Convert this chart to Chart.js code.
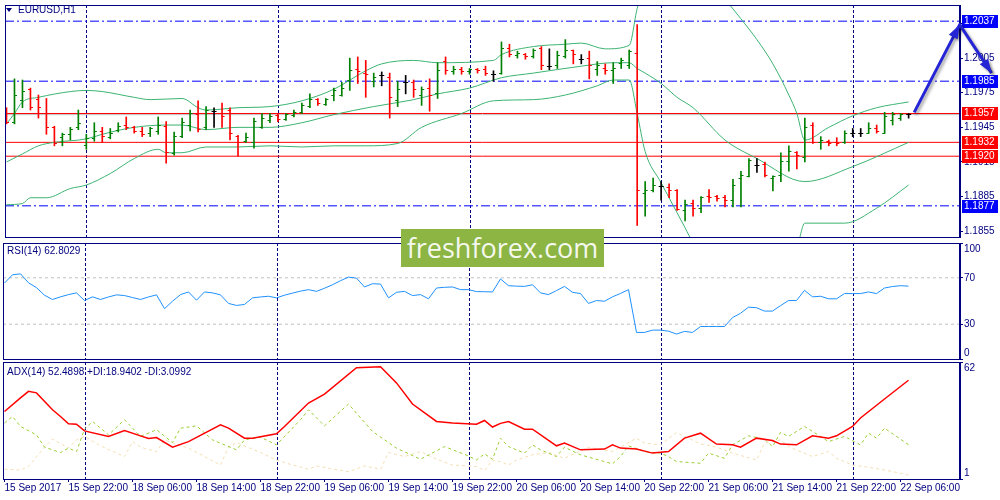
<!DOCTYPE html>
<html>
<head>
<meta charset="utf-8">
<script src="https://cdn.jsdelivr.net/npm/chart.js@4.4.1/dist/chart.umd.min.js"></script>
<style>
  body { margin: 0; background: #fff; width: 1000px; height: 500px; position: relative; overflow: hidden; font-family: "Liberation Sans", Arial, sans-serif; }
  canvas { position: absolute; left: 0; }
  #main { top: 0; }
  #rsi { top: 241px; }
  #adx { top: 360px; }
  .ttl { position: absolute; font-size: 10px; line-height: 12px; color: #000080; white-space: nowrap; z-index: 2; }
  #tri { position: absolute; left: 6px; top: 8px; width: 0; height: 0; border-left: 3px solid transparent; border-right: 3px solid transparent; border-top: 4px solid #000080; z-index: 2; }
  #wm { position: absolute; left: 401px; top: 229px; width: 203px; height: 38px; background: #8db544; color: rgba(255,255,255,0.93);
        font-family: "Open Sans", sans-serif; font-size: 27px; line-height: 37px; text-align: center; z-index: 3; }
</style>
</head>
<body>
<canvas id="main" width="1000" height="242"></canvas>
<canvas id="rsi" width="1000" height="120"></canvas>
<canvas id="adx" width="1000" height="140"></canvas>
<div id="tri"></div>
<div class="ttl" style="left:18px;top:4px">EURUSD,H1</div>
<div class="ttl" style="left:7px;top:245px">RSI(14) 62.8029</div>
<div class="ttl" style="left:7px;top:366px">ADX(14) 52.4898 +DI:18.9402 -DI:3.0992</div>
<div id="wm">freshforex.com</div>
<script>
// EURUSD H1, one bar per hour, 15 Sep 14:00 .. 22 Sep 07:00
const opens = [1.1961,1.1949,1.1968,1.1978,1.1969,1.1957,1.1945,1.1936,1.1939,1.1945,1.1929,1.1935,1.1941,1.1936,1.1942,1.1947,1.1945,1.1941,1.1940,1.1941,
  1.1946,1.1922,1.1937,1.1947,1.1956,1.1945,1.1959,1.1957,1.1960,1.1937,1.1933,1.1932,1.1945,1.1951,1.1955,1.1952,1.1955,1.1958,1.1963,1.1969,
  1.1965,1.1973,1.1973,1.1986,1.1995,1.1992,1.1985,1.1990,1.1988,1.1968,1.1984,1.1984,1.1973,1.1979,1.1974,1.2002,1.1993,1.1995,1.1993,1.1995,
  1.1995,1.1991,1.1992,1.2013,1.2007,1.2008,1.2006,1.2013,1.1998,1.1999,1.2006,1.2012,1.2004,1.2005,1.1995,1.1996,1.1994,1.2000,1.1999,1.2009,
  1.1888,1.1890,1.1894,1.1893,1.1890,1.1873,1.1879,1.1875,1.1885,1.1885,1.1884,1.1882,1.1901,1.1902,1.1912,1.1913,1.1901,1.1903,1.1915,1.1923,
  1.1919,1.1947,1.1932,1.1933,1.1932,1.1932,1.1940,1.1940,1.1940,1.1944,1.1940,1.1951,1.1953,1.1956];
const highs = [1.1962,1.1987,1.1986,1.1979,1.1973,1.1970,1.1946,1.1940,1.1945,1.1960,1.1939,1.1949,1.1945,1.1944,1.1949,1.1954,1.1946,1.1945,1.1945,1.1954,
  1.1950,1.1941,1.1953,1.1960,1.1968,1.1963,1.1962,1.1966,1.1962,1.1938,1.1940,1.1953,1.1957,1.1957,1.1957,1.1957,1.1960,1.1966,1.1974,1.1970,
  1.1970,1.1979,1.1984,1.2005,1.2006,1.2003,1.1992,1.1993,1.1992,1.1985,1.1990,1.1986,1.1980,1.1987,1.2001,1.2006,1.1998,1.1997,1.1996,1.1996,
  1.1998,1.1994,1.2019,1.2017,1.2011,1.2009,1.2013,1.2015,1.2013,1.2011,1.2021,1.2012,1.2008,1.2011,1.2002,1.2000,1.2001,1.2005,1.2012,1.2034,
  1.1898,1.1901,1.1898,1.1896,1.1891,1.1882,1.1882,1.1885,1.1891,1.1886,1.1886,1.1900,1.1907,1.1918,1.1918,1.1915,1.1903,1.1923,1.1929,1.1924,
  1.1953,1.1949,1.1937,1.1934,1.1936,1.1942,1.1944,1.1944,1.1949,1.1947,1.1958,1.1958,1.1957,1.1957];
const lows = [1.1948,1.1948,1.1962,1.1960,1.1953,1.1939,1.1929,1.1929,1.1934,1.1943,1.1926,1.1933,1.1932,1.1935,1.1941,1.1943,1.1940,1.1937,1.1937,1.1939,
  1.1914,1.1921,1.1936,1.1942,1.1941,1.1943,1.1945,1.1945,1.1934,1.1920,1.1932,1.1927,1.1944,1.1949,1.1950,1.1951,1.1954,1.1957,1.1962,1.1964,
  1.1964,1.1968,1.1972,1.1977,1.1983,1.1971,1.1980,1.1981,1.1953,1.1963,1.1974,1.1971,1.1964,1.1959,1.1970,1.1991,1.1991,1.1991,1.1991,1.1992,
  1.1990,1.1985,1.1991,1.2006,1.2005,1.2004,1.2005,1.1995,1.1995,1.1996,1.2005,1.2000,1.2000,1.1987,1.1990,1.1991,1.1983,1.1996,1.1996,1.1860,
  1.1868,1.1889,1.1882,1.1884,1.1873,1.1864,1.1868,1.1871,1.1880,1.1881,1.1876,1.1876,1.1876,1.1902,1.1906,1.1902,1.1890,1.1898,1.1907,1.1909,
  1.1915,1.1931,1.1926,1.1929,1.1929,1.1931,1.1937,1.1937,1.1940,1.1940,1.1940,1.1947,1.1951,1.1953];
const closes = [1.1949,1.1973,1.1976,1.1962,1.1962,1.1945,1.1931,1.1939,1.1943,1.1948,1.1935,1.1941,1.1937,1.1940,1.1946,1.1945,1.1941,1.1939,1.1944,1.1947,
  1.1923,1.1937,1.1949,1.1957,1.1943,1.1960,1.1959,1.1954,1.1940,1.1932,1.1936,1.1950,1.1953,1.1954,1.1952,1.1956,1.1958,1.1964,1.1969,1.1966,
  1.1969,1.1977,1.1979,1.1994,1.1993,1.1991,1.1988,1.1990,1.1971,1.1978,1.1984,1.1978,1.1978,1.1973,1.1994,1.1994,1.1995,1.1993,1.1995,1.1994,
  1.1992,1.1991,1.2013,1.2008,1.2009,1.2006,1.2012,1.1999,1.1998,1.2007,1.2012,1.2008,1.2004,1.1999,1.1999,1.1994,1.1996,1.2003,1.2011,1.1890,
  1.1890,1.1895,1.1894,1.1890,1.1874,1.1878,1.1875,1.1884,1.1884,1.1883,1.1882,1.1895,1.1903,1.1916,1.1912,1.1903,1.1902,1.1915,1.1924,1.1921,
  1.1945,1.1932,1.1934,1.1931,1.1931,1.1940,1.1940,1.1940,1.1944,1.1941,1.1954,1.1956,1.1956,1.1956];

// Bollinger bands [bar, price]
const bbUpper = [[0,1.1948],[1,1.1957],[2,1.1967],[4,1.1971],[8,1.1976],[10,1.1977],[12,1.1976],[16,1.1971],[18,1.1969],[22,1.1970],[24,1.1962],[25,1.1960],
  [29,1.1962],[33,1.1963],[37,1.1968],[41,1.1978],[45,1.1994],[47,1.2000],[51,1.2003],[54,1.2001],[61,1.2003],[62,1.2008],[66,1.2015],[70,1.2017],[72,1.2018],
  [75,1.2013],[78,1.2016],[79,1.2048],[80,1.2070],[82,1.2085],[84,1.2090],[86,1.2085],[88,1.2072],[90,1.2056],[92,1.2039],[94,1.2021],[96,1.2000],[98,1.1973],
  [99,1.1957],[100,1.1934],[103,1.1945],[106,1.1955],[109,1.1962],[113,1.1967]];
const bbMiddle = [[0,1.1915],[2,1.1922],[4,1.1929],[6,1.1932],[10,1.1935],[12,1.1939],[16,1.1945],[20,1.1947],[22,1.1947],[25,1.1943],[29,1.1945],[33,1.1945],
  [37,1.1949],[41,1.1956],[46,1.1963],[51,1.1969],[54,1.1974],[58,1.1979],[62,1.1988],[66,1.1992],[72,1.1998],[76,1.2001],[78,1.2001],[79,1.1996],[80,1.1992],
  [82,1.1983],[84,1.1971],[86,1.1962],[90,1.1934],[94,1.1918],[100,1.1898],[106,1.1911],[113,1.1932]];
const bbLower = [[0,1.1878],[2,1.1879],[3,1.1884],[5,1.1884],[8,1.1892],[10,1.1895],[13,1.1905],[16,1.1918],[19,1.1926],[20,1.1923],[22,1.1923],[25,1.1928],
  [29,1.1928],[33,1.1929],[37,1.1928],[41,1.1929],[45,1.1929],[49,1.1931],[52,1.1945],[57,1.1957],[61,1.1968],[66,1.1969],[70,1.1973],[74,1.1981],[76,1.1986],
  [78,1.1986],[79,1.1957],[80,1.1924],[82,1.1897],[84,1.1871],[85,1.1858],[86,1.1845],[88,1.1830],[90,1.1822],[92,1.1818],[94,1.1820],[96,1.1826],[98,1.1836],
  [99,1.1841],[100,1.1862],[105,1.1862],[109,1.1875],[113,1.1895]];

// drawn levels
const blueLevels = [1.2037, 1.1985, 1.1877];
const redLevels = [1.1957, 1.1932, 1.1920];
const bidPrice = 1.1956;
const priceTicks = [1.1855, 1.1885, 1.1915, 1.1945, 1.1975, 1.2005, 1.2035];
const arrowPath = [[113.7, 1.1958], [119.4, 1.2034], [123.4, 1.1992]];

// RSI(14), one value per bar
const rsiValues = [65.5,72.6,73.4,65.7,61.5,55,51.3,53.6,55.5,57,50.4,53.6,51.3,53.5,55.3,54.7,53,51.3,53.5,55.3,
  43.4,49.8,55.5,57.8,50.7,57.8,57,55.3,47.9,46.2,47,52.7,53.5,54.1,52.7,55,56.8,58.5,59.8,58.3,
  61,64,67.5,70.6,69.7,62.1,64.9,64.6,52.7,57.5,58.3,54.7,55.5,51.9,61.2,61.8,62.1,59.8,59.8,58.1,
  58,57.8,69,63.2,62.8,62.6,64,57,55.5,59,62.6,57.5,56.4,47.9,50.4,49.8,53.6,56.5,59.8,22.9,
  22.9,24.9,24.9,24,21.5,23.8,22.9,28,28,28,28,35.7,39.4,44.7,44.2,41.3,41.3,46,50.4,50.4,
  59.2,53.6,54.1,51.9,51.9,56.4,56.4,56.4,57.8,56.4,61.2,62.5,63.2,62.8];
const rsiLevels = [70, 30];
const rsiTicks = [0, 30, 70, 100];

// ADX(14) [bar, value]
const adxLine = [[0,36.2],[2,43.3],[3,46.7],[4,45.9],[6,37.1],[7,33.6],[8,29.8],[9,29.6],[10,26.1],[13,23.2],[15,26.3],[17,23.5],[18,22.1],[19,22.6],[21,17.6],
  [23,20.5],[27,29.3],[28,27.5],[30,22.3],[31,22.3],[34,24.6],[35,28.4],[38,40.6],[40,45.3],[44,59],[47,59.5],[49,51.1],[51,40.1],[54,31],[56,30.2],[59,29.6],
  [60,31.5],[61,28.1],[62,30],[63,31],[65,27],[66,27],[69,18.3],[70,19.7],[72,16.2],[75,16.6],[76,18.8],[77,17.1],[79,16.6],[81,14.5],[83,15.3],[85,22.3],
  [87,24.9],[89,19.2],[91,18.8],[92,17.6],[94,22.3],[96,21.1],[97,19.2],[99,18.8],[101,23.5],[103,22.3],[104,23.5],[106,28.4],[107,32.8],[110,42.7],[113,52.5]];
const plusDI = [[0,30.2],[1,33.6],[2,28.4],[4,24],[5,17.6],[7,14.8],[8,17.1],[9,15.3],[10,27],[11,31],[13,24],[15,31.9],[17,23.2],[19,26.7],[21,20],[22,27.5],
  [24,28.7],[26,21.4],[29,16.2],[30,21.4],[32,22.8],[34,18.8],[37,31.9],[38,37.1],[40,28.7],[43,40.1],[46,25.8],[49,17.1],[52,11.3],[55,17.9],[58,13],[59,10.9],
  [60,14.1],[61,11.3],[62,22.3],[63,17.9],[65,14.5],[66,18.8],[67,16.2],[69,12.7],[70,17.6],[72,13.6],[76,8.9],[77,12.7],[78,18.3],[80,15.3],[82,14.5],[83,12.7],
  [84,10.1],[87,9.2],[88,14.5],[90,11.8],[91,18.8],[93,23.5],[95,21.8],[96,17.9],[97,25.3],[98,23.2],[100,28.4],[101,25.8],[103,20.5],[105,23.2],[107,18.8],
  [108,24.9],[109,22.3],[110,27.5],[113,18.9]];
const minusDI = [[0,6.1],[2,5.7],[3,7.5],[5,17.6],[6,21.8],[8,17.1],[9,21.4],[10,23.2],[12,18.3],[15,12.7],[16,20.5],[17,17.6],[19,15.3],[20,21.4],[23,17.1],
  [27,8.3],[28,17.6],[29,20],[32,14.8],[34,10.9],[36,8.3],[38,6.1],[39,7.8],[43,4.8],[45,7.8],[47,6.1],[48,14.8],[50,12.7],[52,15.3],[54,11.3],[56,8.3],[59,7.5],
  [60,5.4],[61,10.9],[62,10],[63,8.3],[64,10.9],[66,13.6],[68,14.8],[70,11.8],[73,17.6],[76,15.3],[77,17.6],[79,22.3],[80,19.7],[82,18.8],[84,25.3],[85,23.2],
  [87,19.3],[89,17.6],[91,14.5],[94,10.9],[95,19.7],[97,21.4],[98,17.9],[101,12.7],[103,15.3],[104,11.8],[106,8.3],[108,7.1],[110,5.7],[112,4],[113,3.1]];
const adxTicks = [1, 62];

// time axis
const timeLabels = ['15 Sep 2017','15 Sep 22:00','18 Sep 06:00','18 Sep 14:00','18 Sep 22:00','19 Sep 06:00','19 Sep 14:00','19 Sep 22:00',
  '20 Sep 06:00','20 Sep 14:00','20 Sep 22:00','21 Sep 06:00','21 Sep 14:00','21 Sep 22:00','22 Sep 06:00'];
const labelBars = [0,8,16,24,32,40,48,56,64,72,80,88,96,104,112];
const dayStarts = [10, 34, 58, 82, 106];

const NAVY = '#000080';
const GREEN = '#008000', RED = '#ff0000', BLACK = '#000000';
const XMIN = -0.1875, XMAX = 119.4375;

Chart.defaults.font.family = "'Liberation Sans', Arial, sans-serif";
Chart.defaults.font.size = 10;
Chart.defaults.color = NAVY;

const pts = arr => arr.map(([x, y]) => ({ x, y }));
const flat = (v, color, dash, order) => ({
  type: 'line', data: [{ x: XMIN, y: v }, { x: XMAX, y: v }], borderColor: color, borderWidth: 1,
  borderDash: dash, pointRadius: 0, order: order
});

// small tick images for open (left) and close (right)
function tickImg(color, side) {
  const c = document.createElement('canvas');
  c.width = 7; c.height = 1;
  const g = c.getContext('2d');
  g.fillStyle = color;
  g.fillRect(side === 'open' ? 1 : 3, 0, 3, 1);
  return c;
}
const imgs = {};
[GREEN, RED, BLACK].forEach(c => { imgs[c] = { open: tickImg(c, 'open'), close: tickImg(c, 'close') }; });
const colorOf = i => closes[i] > opens[i] ? GREEN : (closes[i] < opens[i] ? RED : BLACK);

// plugins
const frame = {
  id: 'frame',
  beforeDatasetsDraw(chart) {
    const { ctx, chartArea: a, scales } = chart;
    ctx.save();
    ctx.strokeStyle = NAVY;
    ctx.lineWidth = 1;
    ctx.setLineDash([3, 2]);
    dayStarts.forEach(d => {
      const x = Math.round(scales.x.getPixelForValue(d)) + 0.5;
      ctx.beginPath(); ctx.moveTo(x, a.top); ctx.lineTo(x, a.bottom); ctx.stroke();
    });
    ctx.restore();
  },
  afterDraw(chart) {
    const { ctx, chartArea: a } = chart;
    ctx.save();
    ctx.strokeStyle = NAVY;
    ctx.lineWidth = 1;
    ctx.strokeRect(a.left + 0.5, a.top + 0.5, a.right - a.left - 1, a.bottom - a.top);
    ctx.restore();
  }
};

const priceBoxes = {
  id: 'priceBoxes',
  afterDraw(chart) {
    const { ctx, scales } = chart;
    const draw = (v, bg) => {
      const y = scales.y.getPixelForValue(v);
      ctx.fillStyle = bg;
      ctx.fillRect(962, Math.round(y) - 6, 36, 13);
      ctx.fillStyle = '#ffffff';
      ctx.font = "10px 'Liberation Sans', Arial, sans-serif";
      ctx.textBaseline = 'middle';
      ctx.fillText(v.toFixed(4), 964, Math.round(y) + 0.5);
    };
    ctx.save();
    blueLevels.forEach(v => draw(v, '#0000ff'));
    redLevels.forEach(v => draw(v, '#ff0000'));
    ctx.restore();
  }
};

const arrows = {
  id: 'arrows',
  afterDraw(chart) {
    const { ctx, scales } = chart;
    const p = arrowPath.map(([x, y]) => [scales.x.getPixelForValue(x), scales.y.getPixelForValue(y)]);
    const head = (from, to) => {
      const ang = Math.atan2(to[1] - from[1], to[0] - from[0]);
      const L = 14, W = 5;
      ctx.beginPath();
      ctx.moveTo(to[0], to[1]);
      ctx.lineTo(to[0] - L * Math.cos(ang) + W * Math.sin(ang), to[1] - L * Math.sin(ang) - W * Math.cos(ang));
      ctx.lineTo(to[0] - L * Math.cos(ang) - W * Math.sin(ang), to[1] - L * Math.sin(ang) + W * Math.cos(ang));
      ctx.closePath();
      ctx.fill();
    };
    ctx.save();
    ctx.strokeStyle = '#2525d6';
    ctx.fillStyle = '#2525d6';
    ctx.lineWidth = 3;
    ctx.lineJoin = 'round';
    ctx.shadowColor = 'rgba(0,0,0,0.35)';
    ctx.shadowBlur = 3;
    ctx.shadowOffsetX = 2;
    ctx.shadowOffsetY = 2;
    ctx.beginPath();
    ctx.moveTo(p[0][0], p[0][1]);
    ctx.lineTo(p[1][0], p[1][1]);
    ctx.lineTo(p[2][0], p[2][1]);
    ctx.stroke();
    head(p[0], p[1]);
    head(p[1], p[2]);
    ctx.restore();
  }
};

function xAxis(show) {
  const ax = { type: 'linear', min: XMIN, max: XMAX, display: show, offset: false, grid: { offset: false } };
  if (show) {
    Object.assign(ax, {
      afterBuildTicks: s => { s.ticks = labelBars.map(v => ({ value: v })); },
      afterFit: s => { s.height = 21; s.paddingLeft = 0; s.paddingRight = 0; },
      ticks: { callback: v => timeLabels[labelBars.indexOf(v)], align: 'start', padding: 0, maxRotation: 0, minRotation: 0, autoSkip: false, color: NAVY },
      grid: { offset: false, drawOnChartArea: false, tickLength: 3, tickColor: NAVY },
      border: { display: false }
    });
  }
  return ax;
}

function yAxis(min, max, ticks, fmt) {
  return {
    type: 'linear', position: 'right', min: min, max: max,
    afterBuildTicks: s => { s.ticks = ticks.map(v => ({ value: v })); },
    afterFit: s => { s.width = 40; s.paddingTop = 0; s.paddingBottom = 0; },
    ticks: { callback: fmt, padding: 1, color: NAVY, autoSkip: false },
    grid: { drawOnChartArea: false, tickLength: 3, tickColor: NAVY },
    border: { color: NAVY }
  };
}

const common = { responsive: false, animation: false, devicePixelRatio: 1, events: [], plugins: { legend: { display: false }, tooltip: { enabled: false } } };

// price panel
new Chart(document.getElementById('main'), {
  type: 'bar',
  data: {
    datasets: [
      ...blueLevels.map(v => flat(v, '#0000ff', [9, 3, 2, 3], 9)),
      flat(bidPrice, '#c0c0c0', [], 9),
      ...redLevels.map(v => flat(v, '#ff0000', [], 8)),
      ...[bbUpper, bbMiddle, bbLower].map(b => ({
        type: 'line', data: pts(b), borderColor: '#3cb371', borderWidth: 1, pointRadius: 0,
        cubicInterpolationMode: 'monotone', order: 7
      })),
      {
        type: 'bar', data: highs.map((h, i) => ({ x: i, y: [lows[i], h] })),
        backgroundColor: ctx => colorOf(ctx.dataIndex), barThickness: 1, borderWidth: 0, grouped: false, order: 3
      },
      {
        type: 'line', data: opens.map((o, i) => ({ x: i, y: o })), showLine: false, pointRadius: 1,
        pointStyle: ctx => imgs[colorOf(ctx.dataIndex)].open, order: 2
      },
      {
        type: 'line', data: closes.map((c, i) => ({ x: i, y: c })), showLine: false, pointRadius: 1,
        pointStyle: ctx => imgs[colorOf(ctx.dataIndex)].close, order: 1
      }
    ]
  },
  options: Object.assign({}, common, {
    layout: { padding: { left: 3, right: 0, top: 2, bottom: 2 } },
    scales: { x: xAxis(false), y: yAxis(1.1850, 1.2051, priceTicks, v => v.toFixed(4)) }
  }),
  plugins: [frame, priceBoxes, arrows]
});

// RSI panel
new Chart(document.getElementById('rsi'), {
  type: 'line',
  data: {
    datasets: [
      ...rsiLevels.map(v => flat(v, '#c0c0c0', [3, 3], 5)),
      { data: rsiValues.map((v, i) => ({ x: i, y: v })), borderColor: '#1e90ff', borderWidth: 1, pointRadius: 0, order: 1 }
    ]
  },
  options: Object.assign({}, common, {
    layout: { padding: { left: 3, right: 0, top: 2, bottom: 2 } },
    scales: {
      x: xAxis(false),
      y: yAxis(0, 100, rsiTicks, v => v === 100 ? ['', '100'] : (v === 0 ? ['0', ''] : String(v)))
    }
  }),
  plugins: [frame]
});

// ADX panel
new Chart(document.getElementById('adx'), {
  type: 'line',
  data: {
    datasets: [
      { data: pts(minusDI), borderColor: '#f5deb3', borderWidth: 1, borderDash: [3, 3], pointRadius: 0, order: 3 },
      { data: pts(plusDI), borderColor: '#9acd32', borderWidth: 1, borderDash: [3, 3], pointRadius: 0, order: 2 },
      { data: pts(adxLine), borderColor: '#ff0000', borderWidth: 1.5, pointRadius: 0, order: 1 }
    ]
  },
  options: Object.assign({}, common, {
    layout: { padding: { left: 3, right: 0, top: 2, bottom: 0 } },
    scales: {
      x: xAxis(true),
      y: yAxis(1, 62, adxTicks, v => v === 62 ? ['', '62'] : ['1', ''])
    }
  }),
  plugins: [frame]
});
</script>
</body>
</html>
